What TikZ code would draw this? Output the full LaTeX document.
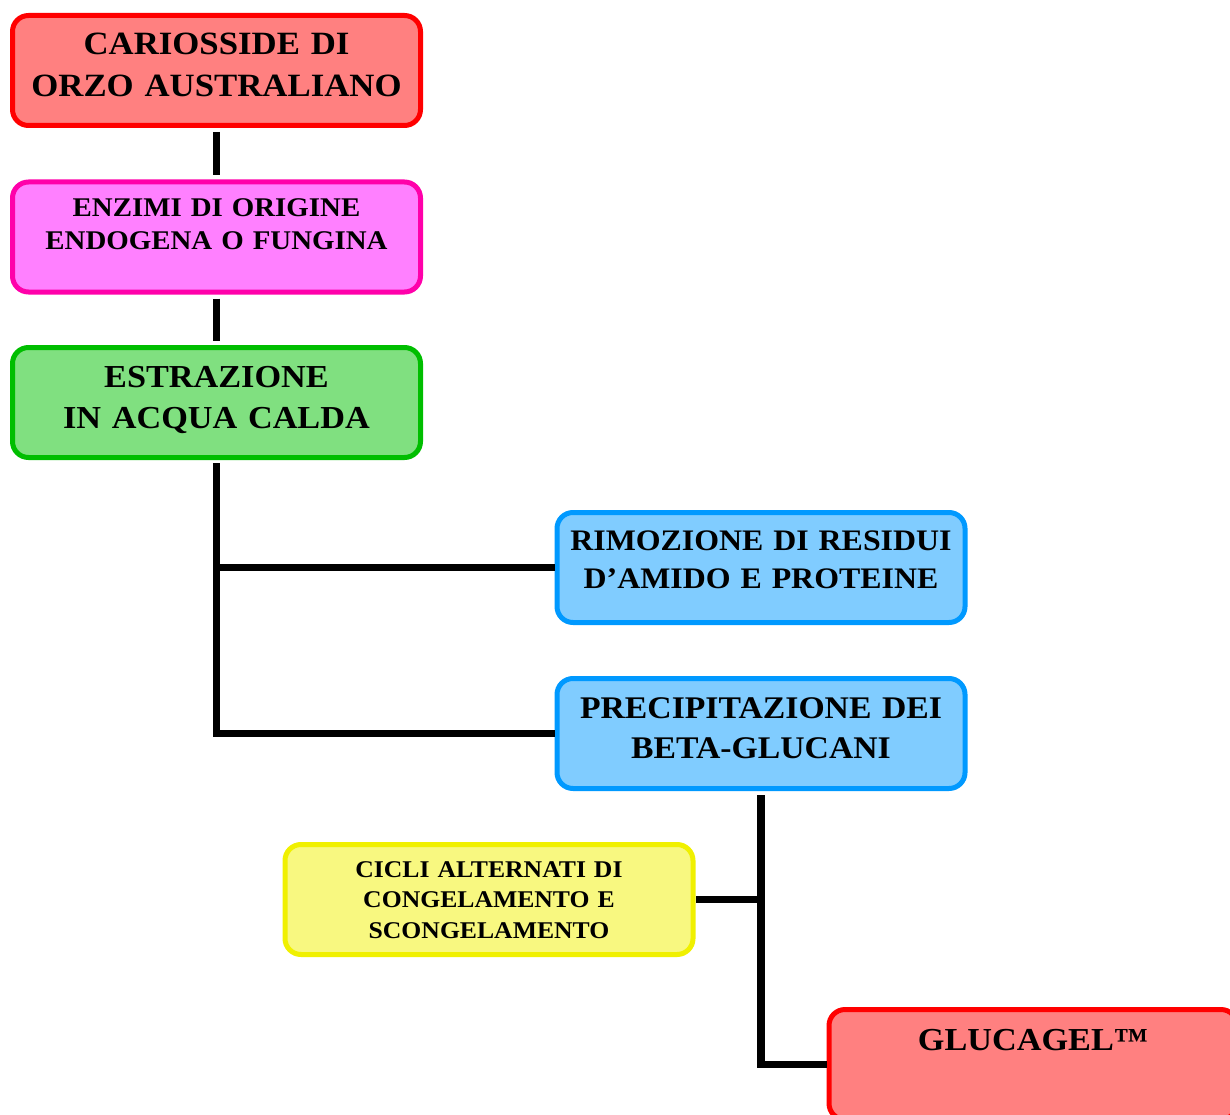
\documentclass[tikz,border=0pt]{standalone}
\usepackage{fontspec}
\setmainfont{Liberation Serif}[FakeStretch=1.07]
\usetikzlibrary{positioning, calc}

\definecolor{redline}{RGB}{255,0,0}
\definecolor{redfill}{RGB}{255,128,128}
\definecolor{pinkline}{RGB}{255,0,170}
\definecolor{pinkfill}{RGB}{255,128,255}
\definecolor{greenline}{RGB}{0,190,0}
\definecolor{greenfill}{RGB}{128,224,128}
\definecolor{blueline}{RGB}{0,153,255}
\definecolor{bluefill}{RGB}{128,204,255}
\definecolor{yellowline}{RGB}{240,240,0}
\definecolor{yellowfill}{RGB}{248,248,128}

\begin{document}
\begin{tikzpicture}[x=1pt, y=-1pt]
\tikzset{
    stage/.style={rectangle, rounded corners=16pt, draw, line width=5pt, minimum width=408pt, minimum height=110pt, inner sep=0pt, text width=400pt, align=center},
    link/.style={draw=black, line width=7.5pt, line join=miter}
}
\useasboundingbox (0,0) rectangle (1230,1115);

% --- Main column (left) ---
\node (cario) at (216.5, 70.5) [stage, draw=redline, fill=redfill, font=\bfseries\fontsize{32.5}{42}\selectfont, text height=39.5pt, text depth=70.5pt] {CARIOSSIDE DI\\ORZO AUSTRALIANO};
\node (enzimi) at (216.5, 237) [stage, draw=pinkline, fill=pinkfill, font=\bfseries\fontsize{27}{33}\selectfont, text height=35pt, text depth=75pt] {ENZIMI DI ORIGINE\\ENDOGENA O FUNGINA};
\node (estr) at (216.5, 402.5) [stage, draw=greenline, fill=greenfill, font=\bfseries\fontsize{32}{41}\selectfont, text height=39.5pt, text depth=70.5pt] {ESTRAZIONE\\IN ACQUA CALDA};

% --- Purification steps (right) ---
\node (rimoz) at (761, 567.5) [stage, draw=blueline, fill=bluefill, font=\bfseries\fontsize{29.8}{38}\selectfont, text height=37.5pt, text depth=72.5pt] {RIMOZIONE DI RESIDUI\\D’AMIDO E PROTEINE};
\node (precip) at (761, 733.5) [stage, draw=blueline, fill=bluefill, font=\bfseries\fontsize{31.5}{40}\selectfont, text height=39.5pt, text depth=70.5pt] {PRECIPITAZIONE DEI\\BETA-GLUCANI};

% --- Final treatment ---
\node (cicli) at (489, 899.5) [stage, draw=yellowline, fill=yellowfill, font=\bfseries\fontsize{24}{30.5}\selectfont, text height=32.5pt, text depth=77.5pt] {CICLI ALTERNATI DI\\CONGELAMENTO E\\SCONGELAMENTO};
\node (gluca) at (1033, 1064.5) [stage, draw=redline, fill=redfill, font=\bfseries\fontsize{32}{42}\selectfont, text height=40.5pt, text depth=69.5pt] {GLUCAGEL™};

% Connections
\draw[link, shorten <=4pt, shorten >=4pt] (cario) -- (enzimi);
\draw[link, shorten <=4pt, shorten >=4pt] (enzimi) -- (estr);
\draw[link] ([yshift=-3pt]estr.south) |- (precip.west);
\draw[link] (estr.south |- rimoz.west) -- (rimoz.west);
\draw[link] ([yshift=-4pt]precip.south) |- (gluca.west);
\draw[link] (precip.south |- cicli.east) -- (cicli.east);

\end{tikzpicture}
\end{document}
